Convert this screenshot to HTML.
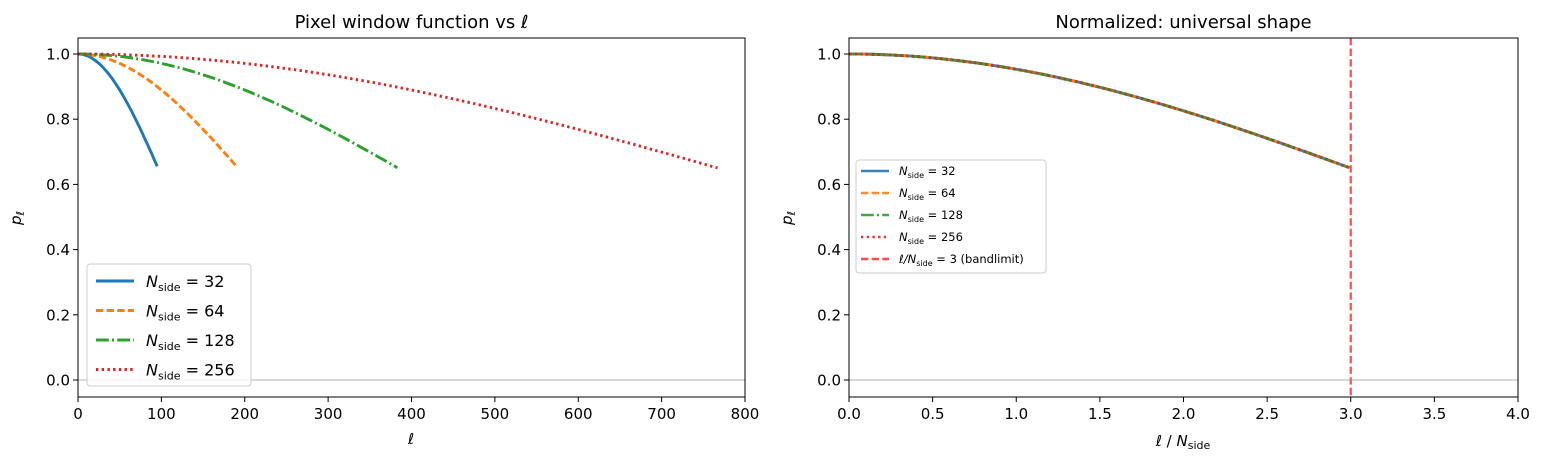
<!DOCTYPE html>
<html><head><meta charset="utf-8"><style>
body{margin:0;background:#fff;width:1544px;height:464px;overflow:hidden}
svg text{font-family:"DejaVu Sans","Liberation Sans",sans-serif;fill:#000}
</style></head><body>
<svg id="s" width="1544" height="464" xmlns="http://www.w3.org/2000/svg"></svg>
<script>
const s=document.getElementById('s');let h='';
const f=u=>Math.exp(-0.0479*u*u);
const Y=p=>380-p*326;
function axes(x0,x1,title,ticks,tx,xlab,isR){
 h+=`<line x1="${x0}" y1="380" x2="${x1}" y2="380" stroke="#999" stroke-width="0.8"/>`;
 h+=`<text x="${(x0+x1)/2}" y="28" font-size="18" text-anchor="middle">${title}</text>`;
 for(const t of ticks){const x=tx(t);h+=`<line x1="${x}" y1="397" x2="${x}" y2="402" stroke="#000"/><text x="${x}" y="419" font-size="15" text-anchor="middle">${isR?t.toFixed(1):t}</text>`;}
 for(let i=0;i<=5;i++){const v=i*0.2,y=Y(v);h+=`<line x1="${x0-5}" y1="${y}" x2="${x0}" y2="${y}" stroke="#000"/><text x="${x0-8}" y="${y+5.5}" font-size="15" text-anchor="end">${v.toFixed(1)}</text>`;}
 h+=xlab;
 h+=`<text x="0" y="0" font-size="15" font-style="italic" transform="translate(${x0-57},218) rotate(-90)" text-anchor="middle">p<tspan font-size="11" dy="3">ℓ</tspan></text>`;
}
const styles=[['#1f77b4',''],['#ff7f0e','7.4,3.2'],['#2ca02c','12.8,3.2,2,3.2'],['#d62728','2.4,3.3']];
const Ns=[32,64,128,256];
const LX=l=>78+l*667/800;
Ns.forEach((N,i)=>{let p=[];const L=3*N-1;for(let k=0;k<=80;k++){const l=L*k/80;p.push(LX(l).toFixed(1)+','+Y(f(l/N)).toFixed(1));}
 h+=`<polyline points="${p.join(' ')}" fill="none" stroke="${styles[i][0]}" stroke-width="2.9" ${styles[i][1]?`stroke-dasharray="${styles[i][1]}"`:''}/>`;});
axes(78,745,'Pixel window function vs ℓ',[0,100,200,300,400,500,600,700,800],LX,`<text x="411" y="444" font-size="15" text-anchor="middle" font-style="italic">ℓ</text>`,false);
const RX=u=>849+u*167.25;
Ns.forEach((N,i)=>{let p=[];const L=3*N-1;for(let k=0;k<=80;k++){const u=L/N*k/80;p.push(RX(u).toFixed(1)+','+Y(f(u)).toFixed(1));}
 h+=`<polyline points="${p.join(' ')}" fill="none" stroke="${styles[i][0]}" stroke-opacity="0.9" stroke-width="2.9" ${styles[i][1]?`stroke-dasharray="${styles[i][1]}"`:''}/>`;});
h+=`<line x1="${RX(3)}" y1="38" x2="${RX(3)}" y2="397" stroke="#ff0000" stroke-opacity="0.7" stroke-width="2.2" stroke-dasharray="7.4,3.2"/>`;
axes(849,1518,'Normalized: universal shape',[0,0.5,1,1.5,2,2.5,3,3.5,4],RX,`<text x="1183" y="446" font-size="15" text-anchor="middle"><tspan font-style="italic">ℓ</tspan> / <tspan font-style="italic">N</tspan><tspan font-size="11" dy="3">side</tspan></text>`,true);
h+=`<rect x="78" y="38" width="667" height="359" fill="none" stroke="#000" stroke-width="1"/>`;
h+=`<rect x="849" y="38" width="669" height="359" fill="none" stroke="#000" stroke-width="1"/>`;
h+=`<rect x="87" y="264" width="164" height="122" rx="3" fill="#fff" fill-opacity="0.8" stroke="#ccc"/>`;
Ns.forEach((N,i)=>{const y=281+i*29.5;h+=`<line x1="96" y1="${y}" x2="134" y2="${y}" stroke="${styles[i][0]}" stroke-width="2.9" ${styles[i][1]?`stroke-dasharray="${styles[i][1]}"`:''}/><text x="146" y="${y+6}" font-size="16"><tspan font-style="italic">N</tspan><tspan font-size="11" dy="4">side</tspan><tspan dy="-4"> = ${N}</tspan></text>`;});
h+=`<rect x="856" y="160" width="190" height="113" rx="3" fill="#fff" fill-opacity="0.8" stroke="#ccc"/>`;
const rs=styles.concat([['#ff0000','7.4,3.2']]);
for(let i=0;i<5;i++){const y=171+i*22;h+=`<line x1="861" y1="${y}" x2="889" y2="${y}" stroke="${rs[i][0]}" stroke-opacity="${i==4?0.7:0.9}" stroke-width="2.4" ${rs[i][1]?`stroke-dasharray="${rs[i][1]}"`:''}/>`;
 const lab=i<4?`<tspan font-style="italic">N</tspan><tspan font-size="8" dy="3">side</tspan><tspan dy="-3"> = ${Ns[i]}</tspan>`:`<tspan font-style="italic">ℓ/N</tspan><tspan font-size="8" dy="3">side</tspan><tspan dy="-3"> = 3 (bandlimit)</tspan>`;
 h+=`<text x="899" y="${y+4}" font-size="11.5">${lab}</text>`;}
s.innerHTML=h;
</script>
</body></html>
